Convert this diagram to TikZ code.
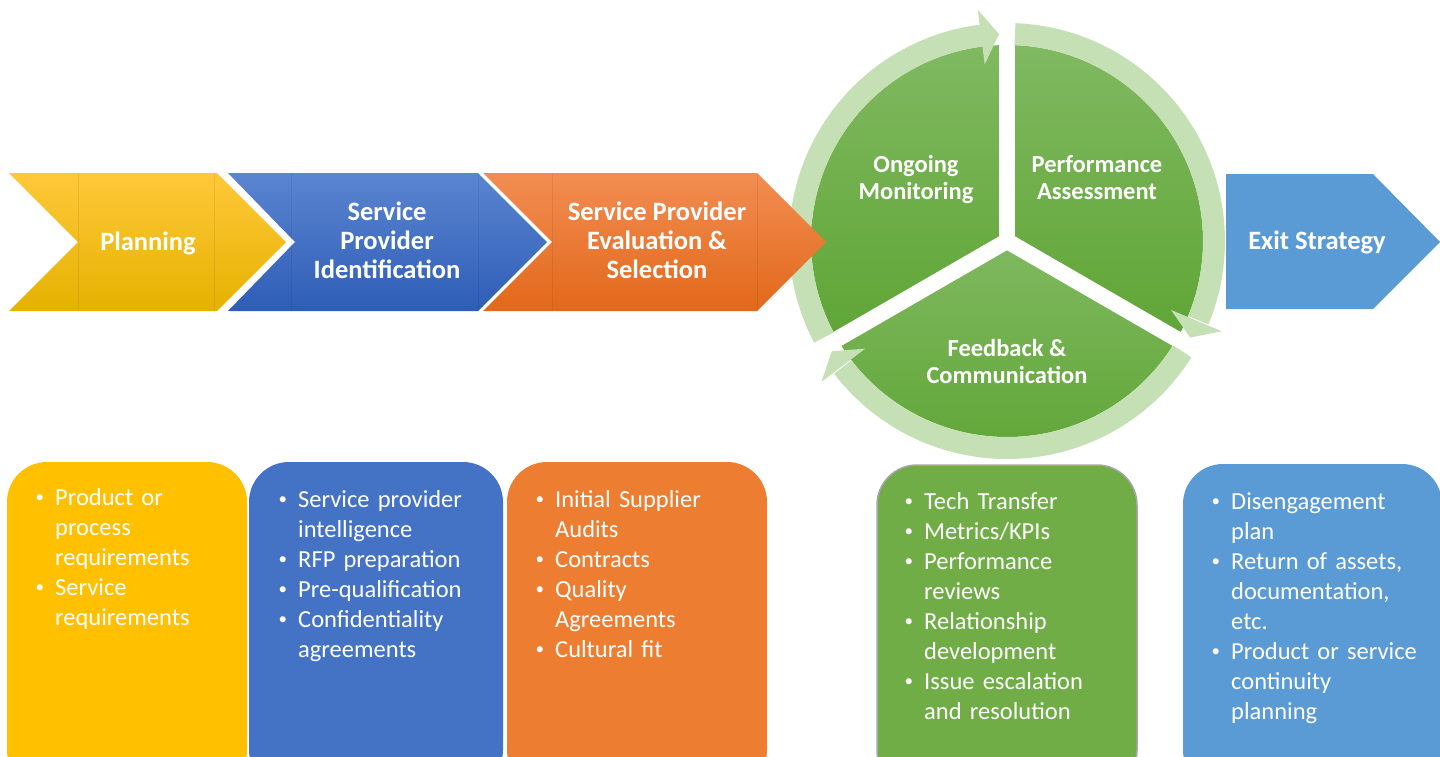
\documentclass[tikz,border=0pt]{standalone}
\usepackage{fontspec}
\setmainfont{Carlito}
\definecolor{ylwT}{HTML}{FFC83A}
\definecolor{ylwM}{HTML}{FFC000}
\definecolor{ylwB}{HTML}{E5B200}
\definecolor{bluT}{HTML}{5B85D0}
\definecolor{bluM}{HTML}{4472C4}
\definecolor{bluB}{HTML}{2E5DB7}
\definecolor{orgT}{HTML}{F28D52}
\definecolor{orgM}{HTML}{F27C2E}
\definecolor{orgB}{HTML}{E2681A}
\definecolor{grnT}{HTML}{80B961}
\definecolor{grnB}{HTML}{5FA535}
\definecolor{ringc}{HTML}{C5E0B4}
\definecolor{exitc}{HTML}{5B9BD5}
\definecolor{boxY}{HTML}{FFC000}
\definecolor{boxB}{HTML}{4472C4}
\definecolor{boxO}{HTML}{ED7D31}
\definecolor{boxG}{HTML}{70AD47}
\definecolor{boxL}{HTML}{5B9BD5}
\newcommand\bitem[1]{\hangindent=20pt\hangafter=1\noindent\makebox[20pt][l]{\hspace{0.5pt}\raisebox{3pt}{\fontsize{17}{17}\selectfont •}}#1\par}
\begin{document}
\begin{tikzpicture}[x=1pt,y=1pt,
  title/.style={text=white, font=\bfseries\fontsize{26.5}{29}\selectfont, align=center, inner sep=0pt},
  ctitle/.style={text=white, font=\bfseries\fontsize{24.5}{27}\selectfont, align=center, inner sep=0pt},
  bul/.style={text=white, font=\fontsize{24.5}{30}\selectfont, anchor=base west, inner sep=0pt, text width=250pt, align=left},
  seam/.style={draw=black, opacity=0.07, line width=1pt},
  card/.style={rounded corners=40pt},
  ringarc/.style={draw=ringc, line width=22pt},
]
\clip (0,0) rectangle (1440,-756);
\fill[white] (0,0) rectangle (1440,-756);

% ---- cycle ----
\begin{scope}[shift={(1007,-241)}]
  \coordinate (cc) at (0,0);
  \shade[top color=grnT, bottom color=grnB] (0,0) -- (90:196) arc[start angle=90, end angle=210, radius=196] -- cycle;
  \shade[top color=grnT, bottom color=grnB] (0,0) -- (-30:196) arc[start angle=-30, end angle=90, radius=196] -- cycle;
  \shade[top color=grnT, bottom color=grnB] (0,0) -- (210:196) arc[start angle=210, end angle=330, radius=196] -- cycle;
  \draw[white, line width=16pt] (cc) -- (90:235);
  \draw[white, line width=16pt] (cc) -- (210:235);
  \draw[white, line width=16pt] (cc) -- (330:235);
  % ring arrows
  \draw[ringarc] (207.8:207) arc[start angle=207.8, end angle=96.9, radius=207];
  \fill[ringc] (97.2:178) -- (92.2:207) -- (97.2:233) -- cycle;
  \draw[ringarc] (87.8:207) arc[start angle=87.8, end angle=-22.5, radius=207];
  \fill[ringc] (-22.8:178) -- (-27.8:207) -- (-22.8:233) -- cycle;
  \draw[ringarc] (-32.2:207) arc[start angle=-32.2, end angle=-142.5, radius=207];
  \fill[ringc] (-142.8:178) -- (-147.8:207) -- (-142.8:233) -- cycle;
\end{scope}

% ---- chevrons ----
\shade[top color=ylwT, middle color=ylwM, bottom color=ylwB]
  (9,-173) -- (217,-173) -- (286,-242) -- (217,-311) -- (9,-311) -- (78,-242) -- cycle;
\draw[seam] (78,-173) -- (78,-311);
\draw[seam] (214,-173) -- (214,-311);
\shade[top color=bluT, middle color=bluM, bottom color=bluB]
  (228,-173) -- (478,-173) -- (547,-242) -- (478,-311) -- (228,-311) -- (295,-242) -- cycle;
\draw[seam] (291,-173) -- (291,-311);
\draw[seam] (478,-173) -- (478,-311);
\shade[top color=orgT, middle color=orgM, bottom color=orgB]
  (483,-173) -- (757,-173) -- (826,-242) -- (757,-311) -- (483,-311) -- (552,-242) -- cycle;
\draw[seam] (552,-173) -- (552,-311);
\draw[seam] (757,-173) -- (757,-311);
\fill[exitc] (1226,-174) -- (1373,-174) -- (1440,-242) -- (1373,-309) -- (1226,-309) -- cycle;

% ---- titles ----
\node[title, anchor=base] (plan) at (148,-250) {Planning};
\node[title] (spi) at (387,-240) {Service\\Provider\\Identification};
\node[title] (spe) at (657,-240) {Service Provider\\Evaluation \&\\Selection};
\node[ctitle] (ongo) at (916,-179.5) {Ongoing\\Monitoring};
\node[ctitle] (perf) at (1097,-177.5) {Performance\\Assessment};
\node[ctitle] (feed) at (1007,-361.5) {Feedback \&\\Communication};
\node[title, anchor=base] (exit) at (1317,-249) {Exit Strategy};

% ---- cards ----
\fill[boxY, card] (7,-462) rectangle (247,-790);
\fill[boxB, card] (249,-462) rectangle (503,-790);
\fill[boxO, card] (507,-462) rectangle (767,-790);
\filldraw[fill=boxG, draw=black!35, line width=1.5pt, card] (877,-465) rectangle (1137,-790);
\fill[boxL, card] (1183,-464) rectangle (1442,-790);

\node[bul] (l1) at (35,-505) {\bitem{Product or\newline process\newline requirements}\bitem{Service\newline requirements}};
\node[bul] (l2) at (278,-507) {\bitem{Service provider\newline intelligence}\bitem{RFP preparation}\bitem{Pre-qualification}\bitem{Confidentiality\newline agreements}};
\node[bul] (l3) at (535,-507) {\bitem{Initial Supplier\newline Audits}\bitem{Contracts}\bitem{Quality\newline Agreements}\bitem{Cultural fit}};
\node[bul] (l4) at (904,-509) {\bitem{Tech Transfer}\bitem{Metrics/KPIs}\bitem{Performance\newline reviews}\bitem{Relationship\newline development}\bitem{Issue escalation\newline and resolution}};
\node[bul] (l5) at (1211,-509) {\bitem{Disengagement\newline plan}\bitem{Return of assets,\newline documentation,\newline etc.}\bitem{Product or service\newline continuity\newline planning}};
\end{tikzpicture}
\end{document}
